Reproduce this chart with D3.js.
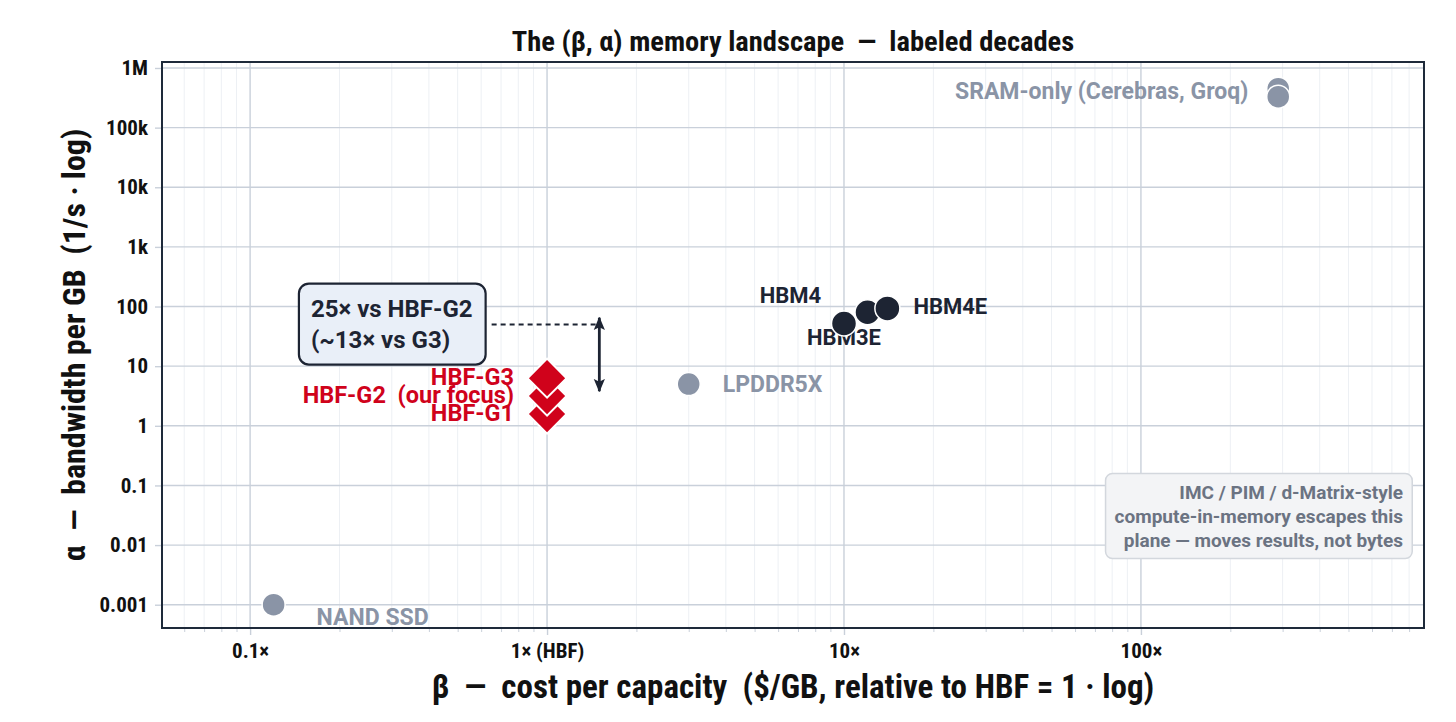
<!DOCTYPE html>
<html>
<head>
<meta charset="utf-8">
<script src="https://cdn.jsdelivr.net/npm/d3@7"></script>
<style>
  html, body { margin: 0; padding: 0; background: #ffffff; }
  svg { display: block; }
  text { white-space: pre; }
  .narrow { font-family: "Liberation Sans Narrow", "Arial Narrow", "Roboto Condensed", sans-serif; font-weight: bold; }
  .lbl { font-family: Roboto, Inter, "Noto Sans", sans-serif; font-weight: bold; }
</style>
</head>
<body>
<svg id="chart" width="1456" height="722"></svg>
<script>
// ---------------- data ----------------
const titleText = "The (β, α) memory landscape  —  labeled decades";
const xLabelText = "β  —  cost per capacity  ($/GB, relative to HBF = 1 · log)";
const yLabelText = "α  —  bandwidth per GB  (1/s · log)";

const xTickValues = [0.1, 1, 10, 100];
const xTickLabels = ["0.1×", "1× (HBF)", "10×", "100×"];
const yTickValues = [1e-3, 1e-2, 1e-1, 1, 10, 100, 1e3, 1e4, 1e5, 1e6];
const yTickLabels = ["0.001", "0.01", "0.1", "1", "10", "100", "1k", "10k", "100k", "1M"];

// grey reference technologies
const greyNames = ["NAND SSD", "LPDDR5X", "", "SRAM-only (Cerebras, Groq)"];
const greyBeta  = [0.12, 3, 290, 290];
const greyAlpha = [0.001, 5, 4.5e5, 3.3e5];

// HBM generations
const hbmNames = ["HBM3E", "HBM4", "HBM4E"];
const hbmBeta  = [10, 12, 14];
const hbmAlpha = [52, 80, 93];

// HBF generations
const hbfNames = ["HBF-G1", "HBF-G2  (our focus)", "HBF-G3"];
const hbfBeta  = [1, 1, 1];
const hbfAlpha = [1.57, 3.15, 6.3];

// gap annotation
const gapText = ["25× vs HBF-G2", "(~13× vs G3)"];
const gapBoxCorner = [0.146, 243];      // beta, alpha of box top-left
const gapArrowBeta = 1.5;
const gapArrowAlpha = [65, 3.8];        // top, bottom
const gapDashAlpha = 50;

const imcText = ["IMC / PIM / d-Matrix-style", "compute-in-memory escapes this", "plane — moves results, not bytes"];

// ---------------- layout ----------------
const svg = d3.select("#chart");
const M = { left: 162, right: 1424, top: 62, bottom: 628 };

const x = d3.scaleLog().domain([0.0505, 898]).range([M.left, M.right]);
const y = d3.scaleLog().domain([4.07e-4, 1.26e6]).range([M.bottom, M.top]);

const C = {
  frame: "#1e2a3a", major: "#c9d0da", minor: "#edf0f4",
  grey: "#8a94a6", dark: "#1d2433", red: "#d0021b"
};

// minor x values
const minorX = [];
for (let e = -2; e <= 2; e++) for (let k = 2; k <= 9; k++) {
  const v = k * Math.pow(10, e);
  if (v > x.domain()[0] && v < x.domain()[1]) minorX.push(v);
}

const g = svg.append("g");

// minor grid
g.append("g").selectAll("line").data(minorX).join("line")
  .attr("x1", d => x(d)).attr("x2", d => x(d))
  .attr("y1", M.top).attr("y2", M.bottom)
  .attr("stroke", C.minor).attr("stroke-width", 1);

// major grid
g.append("g").selectAll("line").data(yTickValues).join("line")
  .attr("x1", M.left).attr("x2", M.right)
  .attr("y1", d => y(d)).attr("y2", d => y(d))
  .attr("stroke", C.major).attr("stroke-width", 1.4);
g.append("g").selectAll("line").data(xTickValues).join("line")
  .attr("x1", d => x(d)).attr("x2", d => x(d))
  .attr("y1", M.top).attr("y2", M.bottom)
  .attr("stroke", C.major).attr("stroke-width", 1.4);

// axes
const xAxis = d3.axisBottom(x).tickValues(xTickValues)
  .tickFormat((d, i) => xTickLabels[i]).tickSize(7).tickPadding(8);
const xg = svg.append("g").attr("transform", `translate(0,${M.bottom})`).call(xAxis);
xg.select(".domain").remove();
xg.selectAll(".tick line").attr("stroke", C.major).attr("stroke-width", 1.4);
xg.selectAll(".tick text").attr("class", "narrow").attr("font-size", 21).attr("fill", "#111");

const xMinorAxis = d3.axisBottom(x).tickValues(minorX).tickFormat("").tickSize(4);
const xmg = svg.append("g").attr("transform", `translate(0,${M.bottom})`).call(xMinorAxis);
xmg.select(".domain").remove();
xmg.selectAll(".tick line").attr("stroke", C.major).attr("stroke-width", 1);

const yAxis = d3.axisLeft(y).tickValues(yTickValues)
  .tickFormat((d, i) => yTickLabels[i]).tickSize(7).tickPadding(7);
const yg = svg.append("g").attr("transform", `translate(${M.left},0)`).call(yAxis);
yg.select(".domain").remove();
yg.selectAll(".tick line").attr("stroke", C.major).attr("stroke-width", 1.4);
yg.selectAll(".tick text").attr("class", "narrow").attr("font-size", 21).attr("fill", "#111");

// frame
svg.append("rect").attr("x", M.left).attr("y", M.top)
  .attr("width", M.right - M.left).attr("height", M.bottom - M.top)
  .attr("fill", "none").attr("stroke", C.frame).attr("stroke-width", 2);

// titles
svg.append("text").attr("class", "narrow").attr("x", (M.left + M.right) / 2).attr("y", 51)
  .attr("text-anchor", "middle").attr("font-size", 28.5).attr("fill", "#111").text(titleText);
svg.append("text").attr("class", "narrow").attr("x", (M.left + M.right) / 2).attr("y", 698)
  .attr("text-anchor", "middle").attr("font-size", 33).attr("fill", "#111").text(xLabelText);
svg.append("text").attr("class", "narrow")
  .attr("transform", `translate(85,${(M.top + M.bottom) / 2}) rotate(-90)`)
  .attr("text-anchor", "middle").attr("font-size", 32).attr("fill", "#111").text(yLabelText);

// ---------------- IMC box ----------------
const imcG = svg.append("g");
imcG.selectAll("text").data(imcText).join("text")
  .attr("class", "lbl").attr("font-size", 19).attr("font-weight", 600).attr("fill", "#6b7382")
  .attr("text-anchor", "end").attr("dominant-baseline", "central")
  .attr("x", M.right - 21).attr("y", (d, i) => 492 + i * 24)
  .text(d => d);
{
  let bb = imcG.node().getBBox();
  imcG.insert("rect", "text").attr("x", bb.x - 9).attr("y", bb.y - 7)
    .attr("width", bb.width + 18).attr("height", bb.height + 14).attr("rx", 7)
    .attr("fill", "#f3f4f6").attr("stroke", "#d3d7dd").attr("stroke-width", 1.5);
}

// ---------------- gap annotation ----------------
const boxX = x(gapBoxCorner[0]), boxY = y(gapBoxCorner[1]);
const gapG = svg.append("g");
gapG.selectAll("text").data(gapText).join("text")
  .attr("class", "lbl").attr("font-size", 24).attr("fill", C.dark)
  .attr("font-weight", 500)
  .attr("x", boxX + 12).attr("y", (d, i) => boxY + 25 + i * 31)
  .attr("dominant-baseline", "central").text(d => d);
let boxRight;
{
  const bb = gapG.node().getBBox();
  const w = bb.width + 25, h = 81;
  gapG.insert("rect", "text").attr("x", boxX).attr("y", boxY).attr("width", w).attr("height", h)
    .attr("rx", 10).attr("fill", "#e9eff8").attr("stroke", C.dark).attr("stroke-width", 2.2);
  boxRight = boxX + w;
}
svg.append("line").attr("x1", boxRight + 6).attr("x2", x(gapArrowBeta))
  .attr("y1", y(gapDashAlpha)).attr("y2", y(gapDashAlpha))
  .attr("stroke", C.dark).attr("stroke-width", 2).attr("stroke-dasharray", "5,4");

const defs = svg.append("defs");
defs.append("marker").attr("id", "ah").attr("viewBox", "0 0 12 10")
  .attr("refX", 11).attr("refY", 5).attr("markerWidth", 4.8).attr("markerHeight", 4.2)
  .attr("markerUnits", "strokeWidth").attr("orient", "auto-start-reverse")
  .append("path").attr("d", "M0,0 L12,5 L0,10 L2.5,5 z").attr("fill", C.dark);
svg.append("line").attr("x1", x(gapArrowBeta)).attr("x2", x(gapArrowBeta))
  .attr("y1", y(gapArrowAlpha[0])).attr("y2", y(gapArrowAlpha[1]))
  .attr("stroke", C.dark).attr("stroke-width", 2.8)
  .attr("marker-start", "url(#ah)").attr("marker-end", "url(#ah)");

// ---------------- labels (drawn beneath markers) ----------------
const greyOffsets = [[43, 13, "start"], [34, 0, "start"], [0, 0, "start"], [-30, -5, "end"]];
svg.append("g").selectAll("text").data(greyNames).join("text")
  .attr("class", "lbl").attr("font-size", 23).attr("fill", C.grey)
  .attr("dominant-baseline", "central")
  .attr("x", (d, i) => x(greyBeta[i]) + greyOffsets[i][0])
  .attr("y", (d, i) => y(greyAlpha[i]) + greyOffsets[i][1])
  .attr("text-anchor", (d, i) => greyOffsets[i][2])
  .text(d => d);

const hbmOffsets = [[0, 14, "middle"], [-77, -17, "middle"], [26, -2, "start"]];
svg.append("g").selectAll("text").data(hbmNames).join("text")
  .attr("class", "lbl").attr("font-size", 22).attr("fill", C.dark)
  .attr("dominant-baseline", "central")
  .attr("x", (d, i) => x(hbmBeta[i]) + hbmOffsets[i][0])
  .attr("y", (d, i) => y(hbmAlpha[i]) + hbmOffsets[i][1])
  .attr("text-anchor", (d, i) => hbmOffsets[i][2])
  .text(d => d);

svg.append("g").selectAll("text").data(hbfNames).join("text")
  .attr("class", "lbl").attr("font-size", 23.5).attr("fill", C.red)
  .attr("font-weight", 500)
  .attr("dominant-baseline", "central")
  .attr("x", (d, i) => x(hbfBeta[i]) - 33)
  .attr("y", (d, i) => y(hbfAlpha[i]) - 1)
  .attr("text-anchor", "end")
  .text(d => d);

// ---------------- markers ----------------
svg.append("g").selectAll("circle").data(greyBeta).join("circle")
  .attr("cx", (d, i) => x(d)).attr("cy", (d, i) => y(greyAlpha[i])).attr("r", 11.5)
  .attr("fill", C.grey).attr("stroke", "#fff").attr("stroke-width", 1.5);

svg.append("g").selectAll("circle").data(hbmBeta).join("circle")
  .attr("cx", (d, i) => x(d)).attr("cy", (d, i) => y(hbmAlpha[i])).attr("r", 12.5)
  .attr("fill", C.dark).attr("stroke", "#fff").attr("stroke-width", 1.5);

const diamond = d3.symbol().type(d3.symbolSquare).size(2 * 19.5 * 19.5);
svg.append("g").selectAll("path").data(hbfBeta).join("path")
  .attr("d", diamond)
  .attr("transform", (d, i) => `translate(${x(d)},${y(hbfAlpha[i])}) rotate(45)`)
  .attr("fill", C.red).attr("stroke", "#fff").attr("stroke-width", 2);
</script>
</body>
</html>
